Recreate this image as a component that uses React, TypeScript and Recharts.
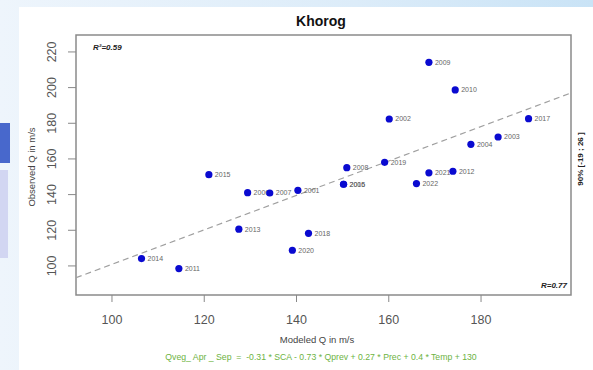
import { ScatterChart, Scatter, XAxis, YAxis, ReferenceLine, ReferenceArea } from 'recharts'

const years = ['2001', '2002', '2003', '2004', '2005', '2006', '2007', '2008', '2009', '2010', '2011',
  '2012', '2013', '2014', '2015', '2016', '2017', '2018', '2019', '2020', '2021', '2022']
const modeledQ = [140.3, 160.1, 183.7, 177.8, 150.2, 129.4, 134.2, 150.9, 168.7, 174.4, 114.5,
  173.9, 127.5, 106.4, 121.0, 150.2, 190.3, 142.6, 159.1, 139.1, 168.7, 166.0]
const observedQ = [142.4, 182.4, 172.3, 168.2, 145.8, 141.1, 140.9, 155.1, 214.2, 198.7, 98.5,
  153.1, 120.6, 104.1, 151.2, 145.8, 182.6, 118.3, 158.1, 108.8, 152.2, 146.2]

const xTicks = [100, 120, 140, 160, 180]
const yTicks = [100, 120, 140, 160, 180, 200, 220]
const xDomain = [92.2, 199.5]
const yDomain = [83.7, 229.5]
// fitted line end points (modeled, observed)
const fitX = [92.2, 199.5]
const fitY = [93.4, 197.0]

const points = years.map((year, i) => ({ year, x: modeledQ[i], y: observedQ[i] }))

const font = '"Liberation Sans", Arial, Helvetica, sans-serif'

function Dot(props: any) {
  const { cx, cy, payload } = props
  return (
    <g>
      <circle cx={cx} cy={cy} r={3.6} fill="#0a0ad0" />
      <text x={cx + 6} y={cy} dy="0.35em" fontSize={7} fill="#666" fontFamily={font}>
        {payload.year}
      </text>
    </g>
  )
}

function XTick(props: any) {
  const { x, y, payload } = props
  return (
    <text x={x} y={y + 20} textAnchor="middle" fontSize={12.5} fill="#555" fontFamily={font}>
      {payload.value}
    </text>
  )
}

function YTick(props: any) {
  const { x, y, payload } = props
  return (
    <text transform={`translate(${x - 14},${y}) rotate(-90)`} textAnchor="middle" dominantBaseline="central"
      fontSize={12.5} fill="#555" fontFamily={font}>
      {payload.value}
    </text>
  )
}

export default function App() {
  return (
    <div style={{
      position: 'absolute', left: 0, top: 0, width: 593, height: 370, overflow: 'hidden',
      background: 'linear-gradient(90deg, #eef5fc 0%, #dcecf9 60%, #c9e3f6 100%)',
    }}>
      <div style={{ position: 'absolute', left: 0, top: 123, width: 10, height: 40, background: '#4868cc' }} />
      <div style={{ position: 'absolute', left: 0, top: 170, width: 8, height: 88, background: '#d2d6f2' }} />
      <div style={{ position: 'absolute', left: 19, top: 7, width: 574, height: 363, background: '#fff' }} />
      <div style={{ position: 'absolute', left: 0, top: 0 }}>
        <ScatterChart width={593} height={370} margin={{ top: 35, right: 22, left: 0, bottom: 0 }}>
          <XAxis type="number" dataKey="x" domain={xDomain} ticks={xTicks} height={75}
            axisLine={false} tickSize={7} tickLine={{ stroke: '#888' }} tick={<XTick />} allowDataOverflow />
          <YAxis type="number" dataKey="y" domain={yDomain} ticks={yTicks} width={76}
            axisLine={false} tickSize={8} tickLine={{ stroke: '#888' }} tick={<YTick />} allowDataOverflow />
          <ReferenceArea x1={xDomain[0]} x2={xDomain[1]} y1={yDomain[0]} y2={yDomain[1]}
            fill="none" stroke="#8a8a8a" strokeWidth={1.5} ifOverflow="visible" />
          <ReferenceLine segment={[{ x: fitX[0], y: fitY[0] }, { x: fitX[1], y: fitY[1] }]}
            stroke="#a0a0a0" strokeWidth={1.2} strokeDasharray="6 4" ifOverflow="hidden" />
          <Scatter data={points} shape={<Dot />} isAnimationActive={false} />
        </ScatterChart>
      </div>
      <svg width={593} height={370} style={{ position: 'absolute', left: 0, top: 0, pointerEvents: 'none' }}
        fontFamily={font}>
        <text x={321} y={26} textAnchor="middle" fontSize={14} fontWeight="bold" fill="#111">Khorog</text>
        <text x={93} y={50} fontSize={8} fontWeight="bold" fontStyle="italic" fill="#222">R²=0.59</text>
        <text x={567} y={288} textAnchor="end" fontSize={8} fontWeight="bold" fontStyle="italic" fill="#222">R=0.77</text>
        <text transform="translate(583,159) rotate(-90)" textAnchor="middle" fontSize={8} fontWeight="bold"
          fill="#222" style={{ whiteSpace: 'pre' }}>{'90% [-19 ; 26 ]'}</text>
        <text transform="translate(35,167) rotate(-90)" textAnchor="middle" fontSize={9.5} fill="#444">
          Observed Q in m/s
        </text>
        <text x={317} y={343} textAnchor="middle" fontSize={9.5} fill="#444">Modeled Q in m/s</text>
        <text x={321} y={360} textAnchor="middle" fontSize={8.7} fill="#6db33f" style={{ whiteSpace: 'pre' }}>
          {'Qveg_ Apr _ Sep  =  -0.31 * SCA - 0.73 * Qprev + 0.27 * Prec + 0.4 * Temp + 130'}
        </text>
      </svg>
    </div>
  )
}
